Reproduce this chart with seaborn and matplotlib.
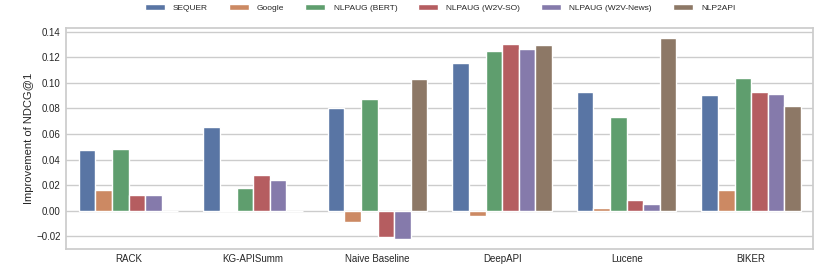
import matplotlib
matplotlib.use("Agg")
import matplotlib.pyplot as plt
import seaborn as sns
import pandas as pd

categories = ["RACK", "KG-APISumm", "Naive Baseline", "DeepAPI", "Lucene", "BIKER"]
methods = ["SEQUER", "Google", "NLPAUG (BERT)", "NLPAUG (W2V-SO)", "NLPAUG (W2V-News)", "NLP2API"]

sequer = [0.0475, 0.0657, 0.0800, 0.1158, 0.0928, 0.0907]
google = [0.0162, 0.0003, -0.0089, -0.0044, 0.0023, 0.0164]
bert = [0.0482, 0.0175, 0.0874, 0.1249, 0.0735, 0.1038]
w2v_so = [0.0120, 0.0282, -0.0203, 0.1300, 0.0083, 0.0928]
w2v_news = [0.0120, 0.0240, -0.0222, 0.1265, 0.0050, 0.0910]
nlp2api = [0.0, 0.0, 0.1033, 0.1293, 0.1350, 0.0821]

series = [sequer, google, bert, w2v_so, w2v_news, nlp2api]
rows = []
for m, vals in zip(methods, series):
    for c, v in zip(categories, vals):
        rows.append({"Approach": c, "Method": m, "Value": v})
df = pd.DataFrame(rows)

sns.set_theme(style="whitegrid")
plt.rcParams["font.family"] = ["Liberation Sans", "DejaVu Sans"]

fig, ax = plt.subplots(figsize=(8.3, 2.77), dpi=100)
sns.barplot(data=df, x="Approach", y="Value", hue="Method", hue_order=methods,
            order=categories, palette="deep", ax=ax, errorbar=None)
ax.set_ylim(-0.0302, 0.1431)
ax.set_xlabel("")
ax.set_ylabel("Improvement of NDCG@1", fontsize=8, labelpad=1.5)
ax.tick_params(axis="x", labelsize=7, length=0, pad=3.5)
ax.tick_params(axis="y", labelsize=7, length=0, pad=4)
ax.legend(loc="upper center", bbox_to_anchor=(0.5, 1.14), ncol=6, frameon=False,
          fontsize=6, handlelength=2.4, handletextpad=1.0, columnspacing=2.5)
fig.subplots_adjust(left=0.08, right=0.98, top=0.90, bottom=0.10)
fig.savefig("out.png", dpi=100)
